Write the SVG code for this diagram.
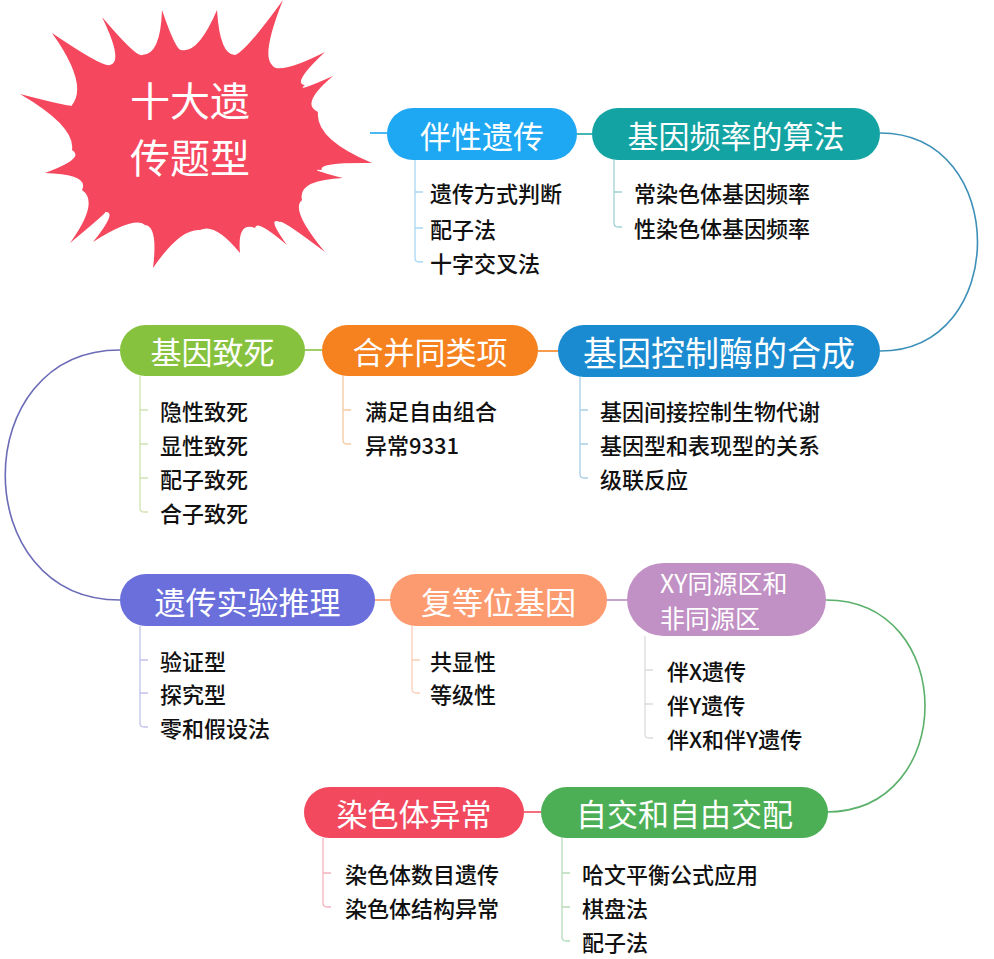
<svg xmlns="http://www.w3.org/2000/svg" width="994" height="959" viewBox="0 0 994 959">
<style>
.pt{fill:#fff;font-family:"Noto Sans CJK SC","Noto Sans",sans-serif;font-size:31px;text-anchor:middle;dominant-baseline:central}
.ct{fill:#111;font-family:"Noto Sans CJK SC","Noto Sans",sans-serif;font-size:22px;font-weight:500;dominant-baseline:central}
.br{fill:none;stroke-width:1.3}
.cn{fill:none;stroke-width:1.6}
</style>
<rect width="994" height="959" fill="#fff"/>
<g id="title">
<path fill="#f5475e" d="M20,94 Q75.8,108.6 72,105 Q88.6,84.2 52,33 Q103.8,68.2 110,65 Q123.8,61.8 102,17 Q136.6,57.8 142,55 Q160.6,55 162,10 Q176.6,53 182,50 Q198.6,53 217,10 Q219.8,55 235,55 Q246.2,51 283,0 Q261,55 272,65 Q277.8,75.8 325,52 Q291,83.8 305,85 Q294.2,93.4 333,76 Q299.4,104.2 318,112 Q315,139 372,163 Q316.6,162.2 322,170 Q305,168.2 343,178 Q297,180.2 302,200 Q289.8,209.8 325,252 Q281,218.6 280,222 Q265.8,215.8 287,245 Q255.8,218.2 255,228 Q237,221.4 240,253 Q215,222.2 200,230 Q180.2,228.2 153,268 Q158.2,226.2 145,225 Q134.2,215.8 93,242 Q118.2,210.6 105,212 Q109,211 70,243 Q99.8,202.2 82,190 Q89.8,174.2 45,173 Q85.8,158.2 72,150 Q75.8,126.6 20,94 Z"/>
<text class="pt" x="190" y="99" style="font-size:40px">十大遗</text>
<text class="pt" x="190" y="156" style="font-size:40px">传题型</text>
</g>
<g id="connectors">
<path class="cn" stroke="#1ea7f2" d="M370,133 H387"/>
<path class="cn" stroke="#14a3a3" d="M577,134 H592"/>
<path class="cn" stroke="#3c8fb8" d="M880,133 C1010,133 1010,351 880,351"/>
<path class="cn" stroke="#f5821f" d="M538,351 H558"/>
<path class="cn" stroke="#86c23e" d="M305,350 H322"/>
<path class="cn" stroke="#6b6bb8" d="M120,350 C-33,350 -33,600 120,600"/>
<path class="cn" stroke="#fd9b70" d="M375,600 H390"/>
<path class="cn" stroke="#b58fc0" d="M607,600 H627"/>
<path class="cn" stroke="#5bb06a" d="M826,600 C958,600 958,812 826,812"/>
<path class="cn" stroke="#f2495f" d="M524,812 H541"/>
<path class="br" stroke="#a8d9f5" d="M415,160 V258 Q415,262 419,262 H423 M415,192 H423 M415,228 H423"/>
<path class="br" stroke="#9fd3d3" d="M614,160 V223 Q614,227 618,227 H622 M614,192 H622"/>
<path class="br" stroke="#cfe3ae" d="M140,376 V508 Q140,512 144,512 H148 M140,410 H148 M140,444 H148 M140,478 H148"/>
<path class="br" stroke="#f5c9a0" d="M343,376 V440 Q343,444 347,444 H351 M343,410 H351"/>
<path class="br" stroke="#a9cfe6" d="M580,377 V474 Q580,478 584,478 H588 M580,410 H588 M580,444 H588"/>
<path class="br" stroke="#c2c3ec" d="M140,626 V723 Q140,727 144,727 H148 M140,660 H148 M140,693 H148"/>
<path class="br" stroke="#fbcdb8" d="M412,626 V689 Q412,693 416,693 H420 M412,660 H420"/>
<path class="br" stroke="#dcdcdc" d="M645,636 V734 Q645,738 649,738 H653 M645,670 H653 M645,704 H653"/>
<path class="br" stroke="#f5b3bd" d="M323,838 V903 Q323,907 327,907 H331 M323,873 H331"/>
<path class="br" stroke="#b5dcb9" d="M562,838 V937 Q562,941 566,941 H570 M562,873 H570 M562,907 H570"/>
</g>
<g id="n1"><rect x="387" y="108" width="190" height="52" rx="26" fill="#1ea7f2"/><text class="pt" x="482" y="134">伴性遗传</text>
<text class="ct" x="430" y="192">遗传方式判断</text><text class="ct" x="430" y="228">配子法</text><text class="ct" x="430" y="262">十字交叉法</text></g>
<g id="n2"><rect x="592" y="108" width="288" height="52" rx="26" fill="#14a3a3"/><text class="pt" x="736" y="134">基因频率的算法</text>
<text class="ct" x="634" y="192">常染色体基因频率</text><text class="ct" x="634" y="227">性染色体基因频率</text></g>
<g id="n3"><rect x="558" y="325" width="322" height="52" rx="26" fill="#1a8bd0"/><text class="pt" x="719" y="351" style="font-size:34px">基因控制酶的合成</text>
<text class="ct" x="600" y="410">基因间接控制生物代谢</text><text class="ct" x="600" y="444">基因型和表现型的关系</text><text class="ct" x="600" y="478">级联反应</text></g>
<g id="n4"><rect x="322" y="325" width="216" height="51" rx="25.5" fill="#f5821f"/><text class="pt" x="430" y="350.5">合并同类项</text>
<text class="ct" x="365" y="410">满足自由组合</text><text class="ct" x="365" y="444">异常9331</text></g>
<g id="n5"><rect x="120" y="325" width="185" height="51" rx="25.5" fill="#86c23e"/><text class="pt" x="212.5" y="350.5">基因致死</text>
<text class="ct" x="160" y="410">隐性致死</text><text class="ct" x="160" y="444">显性致死</text><text class="ct" x="160" y="478">配子致死</text><text class="ct" x="160" y="512">合子致死</text></g>
<g id="n6"><rect x="120" y="574" width="255" height="52" rx="26" fill="#6a6fdc"/><text class="pt" x="247.5" y="600">遗传实验推理</text>
<text class="ct" x="160" y="660">验证型</text><text class="ct" x="160" y="693">探究型</text><text class="ct" x="160" y="727">零和假设法</text></g>
<g id="n7"><rect x="390" y="574" width="217" height="52" rx="26" fill="#fd9b70"/><text class="pt" x="498.5" y="600">复等位基因</text>
<text class="ct" x="430" y="660">共显性</text><text class="ct" x="430" y="693">等级性</text></g>
<g id="n8"><rect x="627" y="563" width="199" height="73" rx="36.5" fill="#c190c4"/><text class="pt" x="660" y="582" style="font-size:25px;text-anchor:start">XY同源区和</text><text class="pt" x="660" y="617" style="font-size:25px;text-anchor:start">非同源区</text>
<text class="ct" x="667" y="670">伴X遗传</text><text class="ct" x="667" y="704">伴Y遗传</text><text class="ct" x="667" y="738">伴X和伴Y遗传</text></g>
<g id="n9"><rect x="541" y="787" width="287" height="51" rx="25.5" fill="#4caf55"/><text class="pt" x="684.5" y="812.5">自交和自由交配</text>
<text class="ct" x="582" y="873">哈文平衡公式应用</text><text class="ct" x="582" y="907">棋盘法</text><text class="ct" x="582" y="941">配子法</text></g>
<g id="n10"><rect x="304" y="787" width="220" height="51" rx="25.5" fill="#f2495f"/><text class="pt" x="414" y="812.5">染色体异常</text>
<text class="ct" x="345" y="873">染色体数目遗传</text><text class="ct" x="345" y="907">染色体结构异常</text></g>
</svg>
